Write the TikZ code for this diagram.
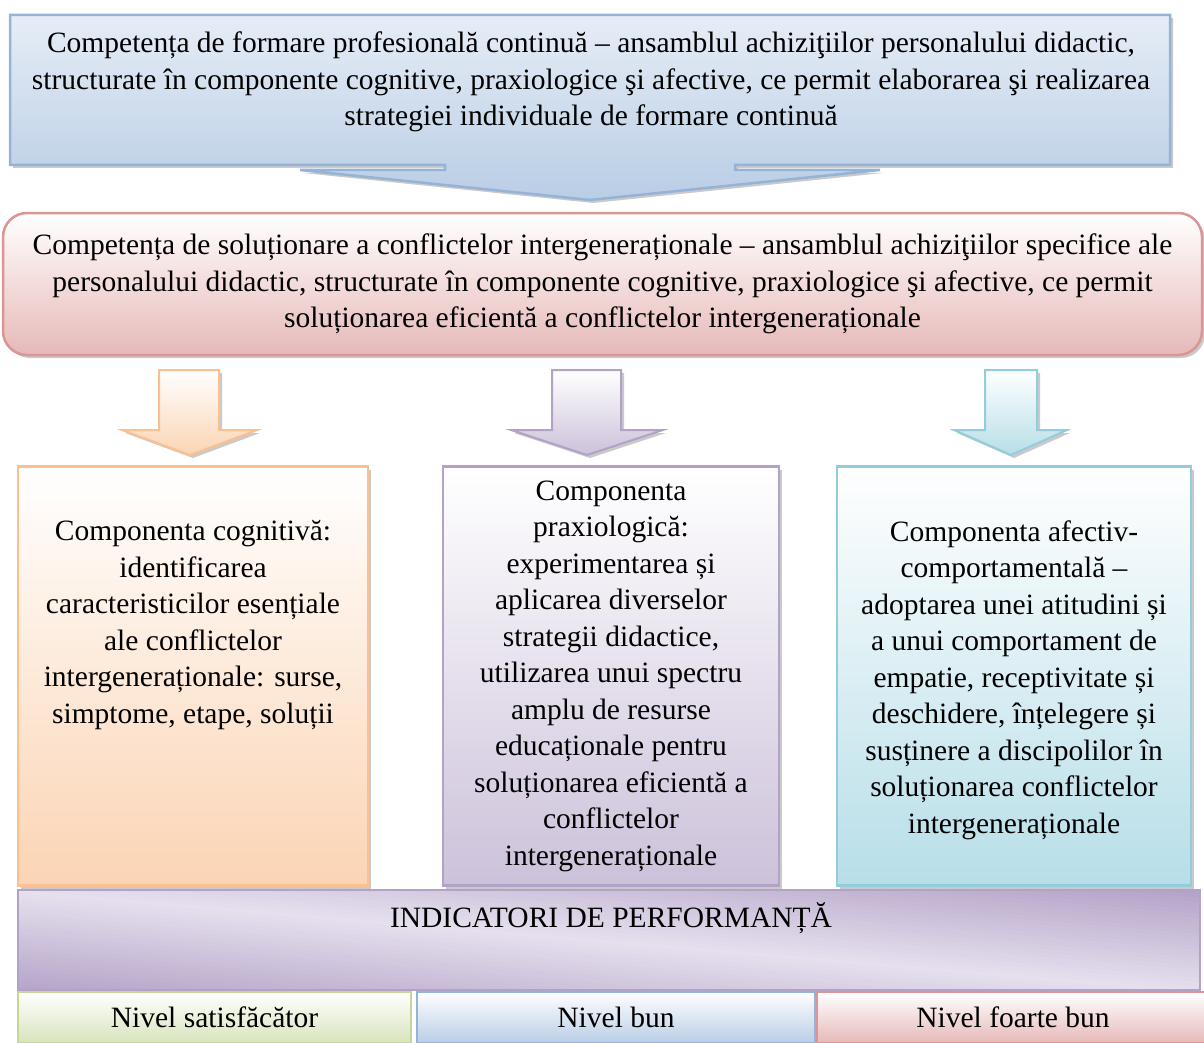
\documentclass[tikz,border=0pt]{standalone}
\usepackage{fontspec}
\setmainfont{Liberation Serif}
\usetikzlibrary{shadows,positioning}

\definecolor{blueline}{HTML}{95B3D7}
\definecolor{bluefill}{HTML}{B9CDE5}
\definecolor{bluelight}{HTML}{E6EDF6}
\definecolor{redline}{HTML}{D99694}
\definecolor{redfill}{HTML}{E6B9B8}
\definecolor{orangeline}{HTML}{FAC090}
\definecolor{orangefill}{HTML}{FBD4B4}
\definecolor{purpleline}{HTML}{B3A2C7}
\definecolor{purplefill}{HTML}{CCC1DA}
\definecolor{purpledark}{HTML}{B4A3C8}
\definecolor{purplelight}{HTML}{E6E0EE}
\definecolor{cyanline}{HTML}{93CDDD}
\definecolor{cyanfill}{HTML}{B7DEE8}
\definecolor{greenline}{HTML}{C3D69B}
\definecolor{greenfill}{HTML}{D7E4BD}

\tikzset{
  every node/.style={font=\fontsize{29.5}{36.5}\selectfont, align=center, inner sep=0pt},
  shadowed/.style={drop shadow={shadow xshift=3pt, shadow yshift=-3pt, fill=black!60, opacity=0.35}},
  compbox/.style={draw, line width=2.5pt, shadowed, top color=white},
  levelbox/.style={draw, line width=2.5pt, top color=white, minimum height=51pt},
  downarrow/.style={line width=2pt, shadowed, top color=white}
}

\begin{document}
\begin{tikzpicture}[x=1pt, y=-1pt]
  \useasboundingbox (0,0) rectangle (1204,1043);

  % competenta de formare (callout)
  \draw[line width=2.5pt, draw=blueline, shadowed, top color=bluelight, bottom color=bluefill]
    (10,15) -- (1170,15) -- (1170,165) -- (735,165) -- (735,170) -- (880,170)
    -- (590,200) -- (300,170) -- (445,170) -- (445,165) -- (10,165) -- cycle;
  \node (formare) at (591,82) {Competența de formare profesională continuă – ansamblul achiziţiilor personalului didactic,\\
    structurate în componente cognitive, praxiologice şi afective, ce permit elaborarea şi realizarea\\
    strategiei individuale de formare continuă};

  % competenta de solutionare
  \node (solutionare) [draw=redline, line width=2.5pt, rounded corners=24pt, shadowed,
    top color=white, bottom color=redfill, minimum width=1199pt, minimum height=142pt] at (602.5,284)
    {Competența de soluționare a conflictelor intergeneraționale – ansamblul achiziţiilor specifice ale\\
    personalului didactic, structurate în componente cognitive, praxiologice şi afective, ce permit\\
    soluționarea eficientă a conflictelor intergeneraționale};

  % sagetile
  \draw[downarrow, draw=orangeline, bottom color=orangefill]
    (159,370) -- (219,370) -- (219,430) -- (257,430) -- (190,455) -- (122,430) -- (159,430) -- cycle;
  \draw[downarrow, draw=purpleline, bottom color=purplefill]
    (552,370) -- (621,370) -- (621,430) -- (663,430) -- (587,455) -- (511,430) -- (552,430) -- cycle;
  \draw[downarrow, draw=cyanline, bottom color=cyanfill]
    (985,370) -- (1037,370) -- (1037,430) -- (1067,430) -- (1011,455) -- (954,430) -- (985,430) -- cycle;

  % componentele
  \node (cognitiva) [compbox, draw=orangeline, bottom color=orangefill,
    minimum width=350pt, minimum height=419pt] at (193,676) {};
  \node (cognitivatext) at (193,625) {Componenta cognitivă:\\ identificarea\\ caracteristicilor esențiale\\
    ale conflictelor\\ intergeneraționale: surse,\\ simptome, etape, soluții};

  \node (praxiologica) [compbox, draw=purpleline, bottom color=purplefill,
    minimum width=336pt, minimum height=419pt] at (611,676)
    {Componenta\\ praxiologică:\\ experimentarea și\\ aplicarea diverselor\\ strategii didactice,\\
    utilizarea unui spectru\\ amplu de resurse\\ educaționale pentru\\ soluționarea eficientă a\\
    conflictelor\\ intergeneraționale};

  \node (afectiva) [compbox, draw=cyanline, bottom color=cyanfill,
    minimum width=354pt, minimum height=419pt] at (1014,676) {};
  \node (afectivatext) at (1014,680) {Componenta afectiv-\\ comportamentală –\\ adoptarea unei atitudini și\\
    a unui comportament de\\ empatie, receptivitate și\\ deschidere, înțelegere și\\
    susținere a discipolilor în\\ soluționarea conflictelor\\ intergeneraționale};

  % indicatori: benzi oblice pentru gradient
  \begin{scope}
    \clip (18,890) rectangle (1200,990);
    \foreach \d in {-100,-96,...,100} {
      \pgfmathsetmacro{\p}{abs(\d)}
      \pgfmathsetmacro{\ya}{890+\d}
      \pgfmathsetmacro{\yb}{990+\d}
      \fill[purpledark!\p!purplelight] (18,\ya) -- (1200,\yb) -- (1200,\yb+4.6) -- (18,\ya+4.6) -- cycle;
    }
  \end{scope}
  \node (indicatori) [draw=purpleline, line width=2pt,
    minimum width=1182pt, minimum height=100pt] at (609,940) {};
  \node (indicatoritext) at (611,918) {INDICATORI DE PERFORMANȚĂ};

  % nivele
  \node (satisfacator) [levelbox, draw=greenline, bottom color=greenfill, minimum width=393pt]
    at (214.5,1017.5) {Nivel satisfăcător};
  \node (bun) [levelbox, draw=blueline, bottom color=bluefill, minimum width=398pt]
    at (616,1017.5) {Nivel bun};
  \node (foartebun) [levelbox, draw=redline, bottom color=redfill, minimum width=392pt]
    at (1013,1017.5) {Nivel foarte bun};
\end{tikzpicture}
\end{document}
